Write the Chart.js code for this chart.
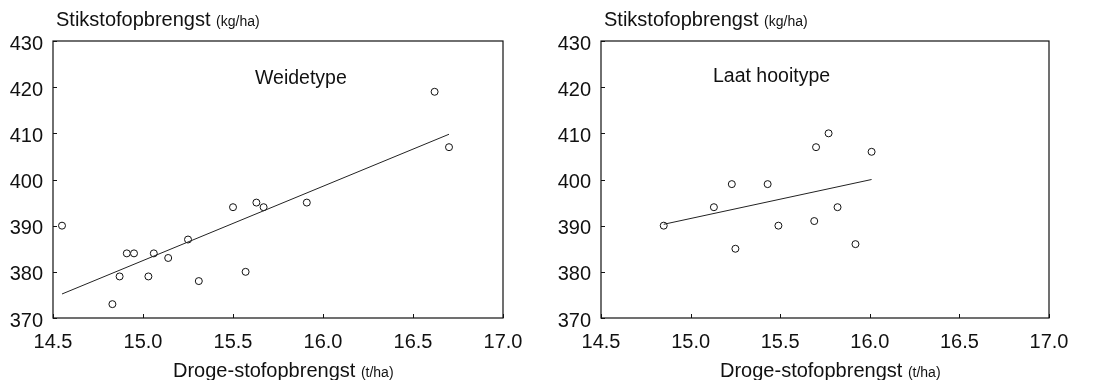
<!DOCTYPE html>
<html>
<head>
<meta charset="utf-8">
<script src="https://cdn.jsdelivr.net/npm/chart.js@4.4.1/dist/chart.umd.min.js"></script>
<style>
  html, body { margin: 0; padding: 0; background: #fff; }
  body { width: 1098px; height: 380px; position: relative; overflow: hidden; font-family: "Liberation Sans", Arial, sans-serif; color: #111; }
  .panel { position: absolute; top: 0; width: 549px; height: 380px; }
  .txt { position: absolute; white-space: nowrap; line-height: 1; }
  .title { font-size: 20px; }
  .unit { font-size: 14px; }
  .label { font-size: 19.5px; }
</style>
</head>
<body>
<div class="panel" style="left:0"><canvas id="weideChart" width="549" height="380"></canvas></div>
<div class="panel" style="left:549px"><canvas id="hooiChart" width="549" height="380"></canvas></div>

<div class="txt title" style="left:56px; top:9px;">Stikstofopbrengst <span class="unit">(kg/ha)</span></div>
<div class="txt title" style="left:604px; top:9px;">Stikstofopbrengst <span class="unit">(kg/ha)</span></div>
<div class="txt label" style="left:255px; top:68px;">Weidetype</div>
<div class="txt label" style="left:713px; top:66px;">Laat hooitype</div>
<div class="txt title" style="left:173px; top:360px;">Droge-stofopbrengst <span class="unit">(t/ha)</span></div>
<div class="txt title" style="left:720px; top:360px;">Droge-stofopbrengst <span class="unit">(t/ha)</span></div>

<script>
// Weidetype: droge-stof (t/ha) vs stikstof (kg/ha)
const weideX = [14.55, 14.83, 14.87, 14.91, 14.95, 15.03, 15.06, 15.14, 15.25, 15.31, 15.50, 15.57, 15.63, 15.67, 15.91, 16.62, 16.70];
const weideY = [390, 373, 379, 384, 384, 379, 384, 383, 387, 378, 394, 380, 395, 394, 395, 419, 407];
const weideLineX = [14.55, 16.70];
const weideLineY = [375.2, 409.8];

// Laat hooitype
const hooiX = [14.85, 15.13, 15.23, 15.25, 15.43, 15.49, 15.69, 15.70, 15.77, 15.82, 15.92, 16.01];
const hooiY = [390, 394, 399, 385, 399, 390, 391, 407, 410, 394, 386, 406];
const hooiLineX = [14.85, 16.01];
const hooiLineY = [390.3, 400.0];

const xTicks = [14.5, 15.0, 15.5, 16.0, 16.5, 17.0];
const yTicks = [370, 380, 390, 400, 410, 420, 430];

const toPoints = (xs, ys) => xs.map((x, i) => ({ x: x, y: ys[i] }));

const framePlugin = {
    id: 'frame',
    afterDatasetsDraw(chart) {
        const { ctx, chartArea: a, scales } = chart;
        ctx.save();
        ctx.strokeStyle = '#111';
        ctx.lineWidth = 1.2;
        ctx.strokeRect(a.left, a.top, a.right - a.left, a.bottom - a.top);
        // small inward tick marks
        ctx.beginPath();
        xTicks.forEach(v => {
            const px = Math.round(scales.x.getPixelForValue(v)) + 0.5;
            ctx.moveTo(px, a.bottom);
            ctx.lineTo(px, a.bottom - 4);
        });
        yTicks.forEach(v => {
            const py = Math.round(scales.y.getPixelForValue(v)) + 0.5;
            ctx.moveTo(a.left, py);
            ctx.lineTo(a.left + 4, py);
        });
        ctx.lineWidth = 1;
        ctx.stroke();
        ctx.restore();
    }
};

function makeChart(id, xs, ys, lx, ly, leftW, rightPad) {
    const ctx = document.getElementById(id).getContext('2d');
    return new Chart(ctx, {
        type: 'scatter',
        data: {
            datasets: [
                {
                    type: 'line',
                    data: toPoints(lx, ly),
                    borderColor: '#222',
                    borderWidth: 1,
                    pointRadius: 0,
                    fill: false,
                    tension: 0
                },
                {
                    data: toPoints(xs, ys),
                    pointRadius: 3.5,
                    pointBorderWidth: 1,
                    pointBorderColor: '#111',
                    pointBackgroundColor: '#fff'
                }
            ]
        },
        options: {
            responsive: false,
            animation: false,
            layout: { padding: { top: 41, right: rightPad, left: 0, bottom: 0 } },
            plugins: { legend: { display: false }, tooltip: { enabled: false } },
            scales: {
                x: {
                    type: 'linear',
                    min: 14.5,
                    max: 17.0,
                    afterBuildTicks: s => { s.ticks = xTicks.map(v => ({ value: v })); },
                    afterFit: s => { s.height = 62; },
                    grid: { display: false, drawTicks: false },
                    border: { display: false },
                    ticks: {
                        padding: 12,
                        color: '#111',
                        font: { family: 'Liberation Sans', size: 20 },
                        callback: v => v.toFixed(1)
                    }
                },
                y: {
                    type: 'linear',
                    min: 370,
                    max: 430,
                    afterBuildTicks: s => { s.ticks = yTicks.map(v => ({ value: v })); },
                    afterFit: s => { s.width = leftW; },
                    grid: { display: false, drawTicks: false },
                    border: { display: false },
                    ticks: {
                        padding: 10,
                        labelOffset: 3,
                        color: '#111',
                        font: { family: 'Liberation Sans', size: 20 }
                    }
                }
            }
        },
        plugins: [framePlugin]
    });
}

makeChart('weideChart', weideX, weideY, weideLineX, weideLineY, 53, 46);
makeChart('hooiChart', hooiX, hooiY, hooiLineX, hooiLineY, 52, 49);
</script>
</body>
</html>
